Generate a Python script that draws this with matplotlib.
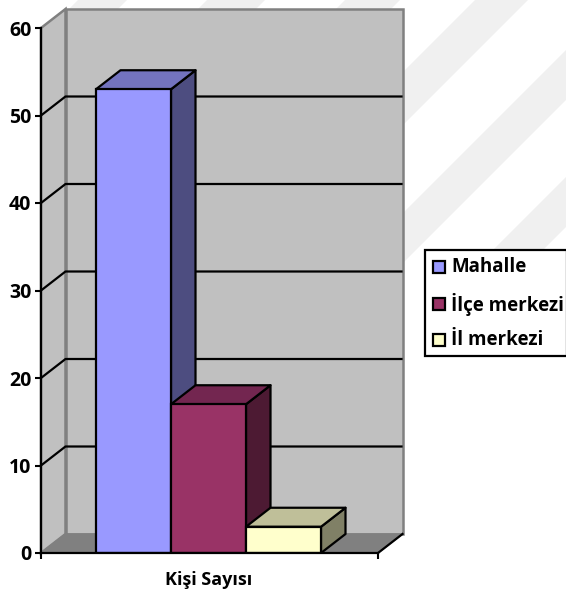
import matplotlib.pyplot as plt
from matplotlib.patches import Polygon, Rectangle

categories = ['Mahalle', 'İlçe merkezi', 'İl merkezi']
values = [53, 17, 3]
group_label = 'Kişi Sayısı'
yticks = [0, 10, 20, 30, 40, 50, 60]

front_colors = ['#9999ff', '#993366', '#ffffcc']
top_colors = ['#7373bf', '#732650', '#bfbf99']
side_colors = ['#4d4d80', '#4d1a33', '#808066']

W, H = 566, 593
plt.rcParams['font.family'] = ['Open Sans', 'DejaVu Sans']

fig = plt.figure(figsize=(W / 100, H / 100), dpi=100)
bg = fig.add_axes([0, 0, 1, 1])
bg.set_xlim(0, W)
bg.set_ylim(H, 0)
bg.axis('off')
# faint diagonal bands behind the chart, they stop under the legend
clip = Rectangle((41, 0), W - 41, 300, transform=bg.transData)
for a, b in [(78, 127), (207, 265), (345, 400), (475, 528), (616, 666), (743, 793)]:
    band = Polygon([(a, 0), (b, 0), (b - 400, 400), (a - 400, 400)], color='#f0f0f0', lw=0, zorder=0)
    bg.add_patch(band)
    band.set_clip_path(clip)

ax = fig.add_axes([41 / W, (H - 553) / H, 337 / W, 525 / H])
ax.set_xlim(0, 337)
ax.set_ylim(0, 60)
ax.patch.set_alpha(0)
for s in ['top', 'right']:
    ax.spines[s].set_visible(False)
for s in ['left', 'bottom']:
    ax.spines[s].set_linewidth(1.6)
    ax.spines[s].set_zorder(9)

dx = 24.5
dy = 19 / 8.75
lw = 1.6
k = 'black'
grey = '#c0c0c0'
edge = '#808080'

# walls and floor
ax.add_patch(Polygon([(0, 0), (dx, dy), (dx, 60 + dy), (0, 60)], fc=grey, ec=edge, lw=1.8, clip_on=False, zorder=1))
ax.add_patch(Polygon([(dx, dy), (337 + dx, dy), (337 + dx, 60 + dy), (dx, 60 + dy)], fc=grey, ec=edge, lw=1.8, clip_on=False, zorder=1))
ax.add_patch(Polygon([(0, 0), (337, 0), (337 + dx, dy), (dx, dy)], fc='#808080', ec=edge, lw=1, clip_on=False, zorder=2))
ax.plot([337, 337 + dx], [0, dy], color=k, lw=lw, clip_on=False, zorder=3)

# gridlines
for t in yticks[1:-1]:
    ax.plot([0, dx, 337 + dx - 1], [t, t + dy, t + dy], color=k, lw=lw, clip_on=False, zorder=3)

# bars
bar_w = 75
x = 55
for v, cf, ct, cs in zip(values, front_colors, top_colors, side_colors):
    ax.add_patch(Polygon([(x + bar_w, 0), (x + bar_w + dx, dy), (x + bar_w + dx, v + dy), (x + bar_w, v)],
                         fc=cs, ec=k, lw=lw, zorder=4, joinstyle='round'))
    ax.add_patch(Polygon([(x, v), (x + bar_w, v), (x + bar_w + dx, v + dy), (x + dx, v + dy)],
                         fc=ct, ec=k, lw=lw, zorder=4, joinstyle='round'))
    ax.add_patch(Rectangle((x, 0), bar_w, v, fc=cf, ec=k, lw=lw, zorder=5))
    x += bar_w

ax.set_yticks(yticks)
ax.set_xticks([0, 337])
ax.set_xticklabels(['', ''])
ax.tick_params(axis='y', length=4, width=1.5, pad=3, labelsize=14)
ax.tick_params(axis='x', length=4, width=1.5, direction='out')
for lab in ax.get_yticklabels():
    lab.set_fontweight('bold')
ax.text(168, -3.1, group_label, ha='center', va='center', fontsize=13, fontweight='bold')

# legend
bg.add_patch(Rectangle((424.5, 249.5), 142, 106, fc='white', ec=k, lw=1.6, zorder=5))
for name, c, y in zip(categories, front_colors, [267, 304, 340]):
    bg.add_patch(Rectangle((432.5, y - 6), 12, 12, fc=c, ec=k, lw=1.6, zorder=6))
    bg.text(451, y, name, va='center', ha='left', fontsize=13.5, fontweight='bold', zorder=6)

fig.savefig('out.png', dpi=100)
